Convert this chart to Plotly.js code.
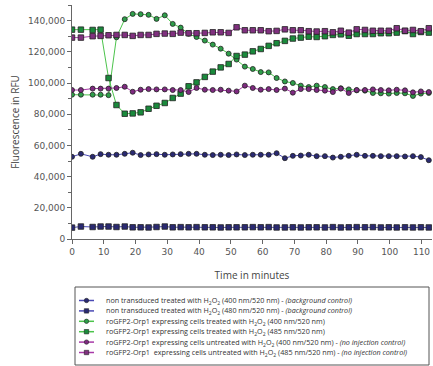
<!DOCTYPE html>
<html>
<head>
<meta charset="utf-8">
<script src="https://cdn.plot.ly/plotly-3.0.1.min.js"></script>
<style>html,body{margin:0;padding:0;background:#fff;}#chart{width:433px;height:366px;}</style>
</head>
<body>
<div id="chart"></div>
<script>
// Time points (minutes)
var times = [0, 2.8, 6.5, 9.0, 11.5, 14.0, 16.6, 19.1, 21.6, 24.1, 26.6, 29.2, 31.7, 34.2, 36.7, 39.2, 41.8, 44.3, 46.8, 49.3, 51.8, 54.4, 56.9, 59.4, 61.9, 64.4, 67.0, 69.5, 72.0, 74.5, 77.0, 79.6, 82.1, 84.6, 87.1, 89.6, 92.2, 94.7, 97.2, 99.7, 102.2, 104.8, 107.3, 109.8, 112.3];

// Fluorescence values (thousands of RFU)
var bg400 = [52.7,54.6,52.7,54.4,54.0,54.0,54.6,55.3,53.8,54.2,54.4,54.0,54.2,54.4,54.6,54.6,54.0,53.8,54.0,53.8,54.2,53.8,54.0,54.0,54.0,55.0,51.8,53.3,53.5,54.0,53.1,53.1,52.2,52.7,53.3,54.0,53.3,53.3,53.1,53.1,53.1,52.9,53.1,52.5,50.5];
var bg480 = [7.3,8.0,7.7,8.0,8.0,7.7,8.0,7.5,7.5,7.4,7.7,8.0,7.5,7.6,7.5,7.6,7.5,7.5,7.4,7.5,7.5,7.5,7.6,7.5,7.6,7.4,7.4,7.5,7.4,7.5,7.5,7.4,7.6,7.4,7.5,7.6,7.5,7.6,7.4,7.5,7.4,7.5,7.4,7.5,7.4];
var treated400 = [92.5,92.5,92.5,92.5,92.2,129.3,140.9,144.3,144.1,143.7,141.1,143.4,137.9,135.5,131.5,129.5,127.2,124.6,122.0,118.8,115.0,110.5,109.0,107.0,106.8,103.2,101.0,100.0,98.3,97.4,98.3,97.4,96.1,96.6,95.9,95.3,95.1,93.6,93.4,93.2,93.6,93.4,91.7,93.2,93.6];
var treated485 = [134.2,134.2,134.0,134.2,103.2,85.9,80.3,80.5,81.2,83.5,85.4,87.2,90.4,93.2,97.9,100.4,103.9,107.3,110.0,112.2,117.3,118.2,120.3,121.8,123.8,125.5,127.0,128.5,129.1,129.7,129.5,130.0,130.8,131.2,130.3,131.4,131.4,131.4,131.9,131.9,132.3,133.3,131.4,132.7,132.3];
var untreated400 = [95.5,95.5,96.4,96.4,96.4,96.8,97.6,94.4,95.7,96.1,95.9,95.9,95.5,95.5,94.2,96.8,95.7,95.5,95.7,95.1,94.6,98.3,96.8,95.7,96.1,95.5,96.4,93.8,96.1,96.1,95.5,95.1,94.2,96.4,93.6,95.5,95.5,95.9,95.5,95.3,95.7,95.3,94.0,94.6,94.2];
var untreated485 = [129.1,129.1,130.0,130.2,130.6,130.8,130.8,130.2,130.8,130.8,131.5,131.7,131.5,132.3,131.9,131.9,132.1,132.5,132.5,132.1,135.7,133.8,133.8,133.8,133.2,133.4,134.4,133.8,133.8,133.2,133.0,133.2,132.5,133.5,132.3,134.4,134.0,133.5,133.5,133.5,135.1,133.5,134.0,133.2,135.1];

var seriesNames = [
  'non transduced treated with H<sub>2</sub>O<sub>2</sub> (400 nm/520 nm) - <i>(background control)</i>',
  'non transduced treated with H<sub>2</sub>O<sub>2</sub> (480 nm/520 nm) - <i>(background control)</i>',
  'roGFP2-Orp1 expressing cells treated with H<sub>2</sub>O<sub>2</sub> (400 nm/520 nm)',
  'roGFP2-Orp1 expressing cells treated with H<sub>2</sub>O<sub>2</sub> (485 nm/520 nm)',
  'roGFP2-Orp1 expressing cells untreated with H<sub>2</sub>O<sub>2</sub> (400 nm/520 nm) - <i>(no injection control)</i>',
  'roGFP2-Orp1&nbsp; expressing cells untreated with H<sub>2</sub>O<sub>2</sub> (485 nm/520 nm) - <i>(no injection control)</i>'
];
var xTitle = 'Time in minutes';
var yTitle = 'Fluorescence in RFU';

var seriesData = [bg400, bg480, treated400, treated485, untreated400, untreated485];
var lineColors = ['#4a4ab4', '#4a4ab4', '#4cc44c', '#4cc44c', '#a83aa8', '#a83aa8'];
var markerColors = ['#2a2a72', '#2a2a72', '#2e9e4a', '#1a8a3c', '#7e2a80', '#80307f'];
var symbols = ['circle', 'square', 'circle', 'square', 'circle', 'square'];

var W = 433, H = 366;
var M = {l: 72, r: 1, t: 5, b: 127};
function px2x(p) { return (p - M.l) / (W - M.l - M.r); }
function py2y(p) { return (H - M.b - p) / (H - M.t - M.b); }

var traces = seriesData.map(function (vals, i) {
  return {
    x: times,
    y: vals.map(function (v) { return v * 1000; }),
    type: 'scatter',
    mode: 'lines+markers',
    name: seriesNames[i],
    line: {color: lineColors[i], width: 1},
    marker: {symbol: symbols[i], size: symbols[i] === 'square' ? 5.5 : 5, color: markerColors[i],
             line: {color: '#222', width: 0.8}},
    showlegend: false,
    hoverinfo: 'x+y'
  };
});

// manual compact legend
var shapes = [], annotations = [];
var lx0 = 75, lx1 = 429, ly0 = 287, ly1 = 365;
shapes.push({type: 'rect', xref: 'paper', yref: 'paper', x0: px2x(lx0), x1: px2x(lx1), y0: py2y(ly1), y1: py2y(ly0),
             line: {color: '#555', width: 1}, fillcolor: 'rgba(0,0,0,0)'});
seriesNames.forEach(function (name, i) {
  var cy = 300.5 + 10.4 * i;
  shapes.push({type: 'line', xref: 'paper', yref: 'paper', x0: px2x(79), x1: px2x(94), y0: py2y(cy), y1: py2y(cy),
               line: {color: lineColors[i], width: 1.5}});
  var r = 2.2;
  shapes.push({type: symbols[i] === 'circle' ? 'circle' : 'rect', xref: 'paper', yref: 'paper',
               x0: px2x(86.5 - r), x1: px2x(86.5 + r), y0: py2y(cy + r), y1: py2y(cy - r),
               fillcolor: markerColors[i], line: {color: '#222', width: 0.6}});
  annotations.push({xref: 'paper', yref: 'paper', x: px2x(104), y: py2y(cy), xanchor: 'left', yanchor: 'middle',
                    text: name, showarrow: false, font: {family: 'Open Sans', size: 7.2, color: '#333'}});
});

var layout = {
  width: W, height: H,
  margin: M,
  paper_bgcolor: '#fff', plot_bgcolor: '#fff',
  showlegend: false,
  xaxis: {
    range: [0, 113.3], tickvals: [0,10,20,30,40,50,60,70,80,90,100,110],
    showgrid: false, zeroline: false, showline: true, linecolor: '#666', linewidth: 1,
    ticks: 'outside', ticklen: 4, tickcolor: '#666',
    tickfont: {family: 'DejaVu Sans', size: 9, color: '#555'},
    title: {text: xTitle, font: {family: 'Open Sans', size: 10, color: '#444'}, standoff: 16}
  },
  yaxis: {
    range: [0, 150000], tickvals: [0,20000,40000,60000,80000,100000,120000,140000],
    tickformat: ',d',
    showgrid: false, zeroline: false, showline: true, linecolor: '#666', linewidth: 1,
    ticks: 'outside', ticklen: 4, tickcolor: '#666',
    minor: {dtick: 10000, ticks: 'outside', ticklen: 3, tickcolor: '#666', showgrid: false},
    tickfont: {family: 'DejaVu Sans', size: 9, color: '#555'},
    title: {text: yTitle, font: {family: 'Open Sans', size: 10, color: '#444'}, standoff: 6}
  },
  shapes: shapes,
  annotations: annotations
};

Plotly.newPlot('chart', traces, layout, {displayModeBar: false, staticPlot: true});
</script>
</body>
</html>
